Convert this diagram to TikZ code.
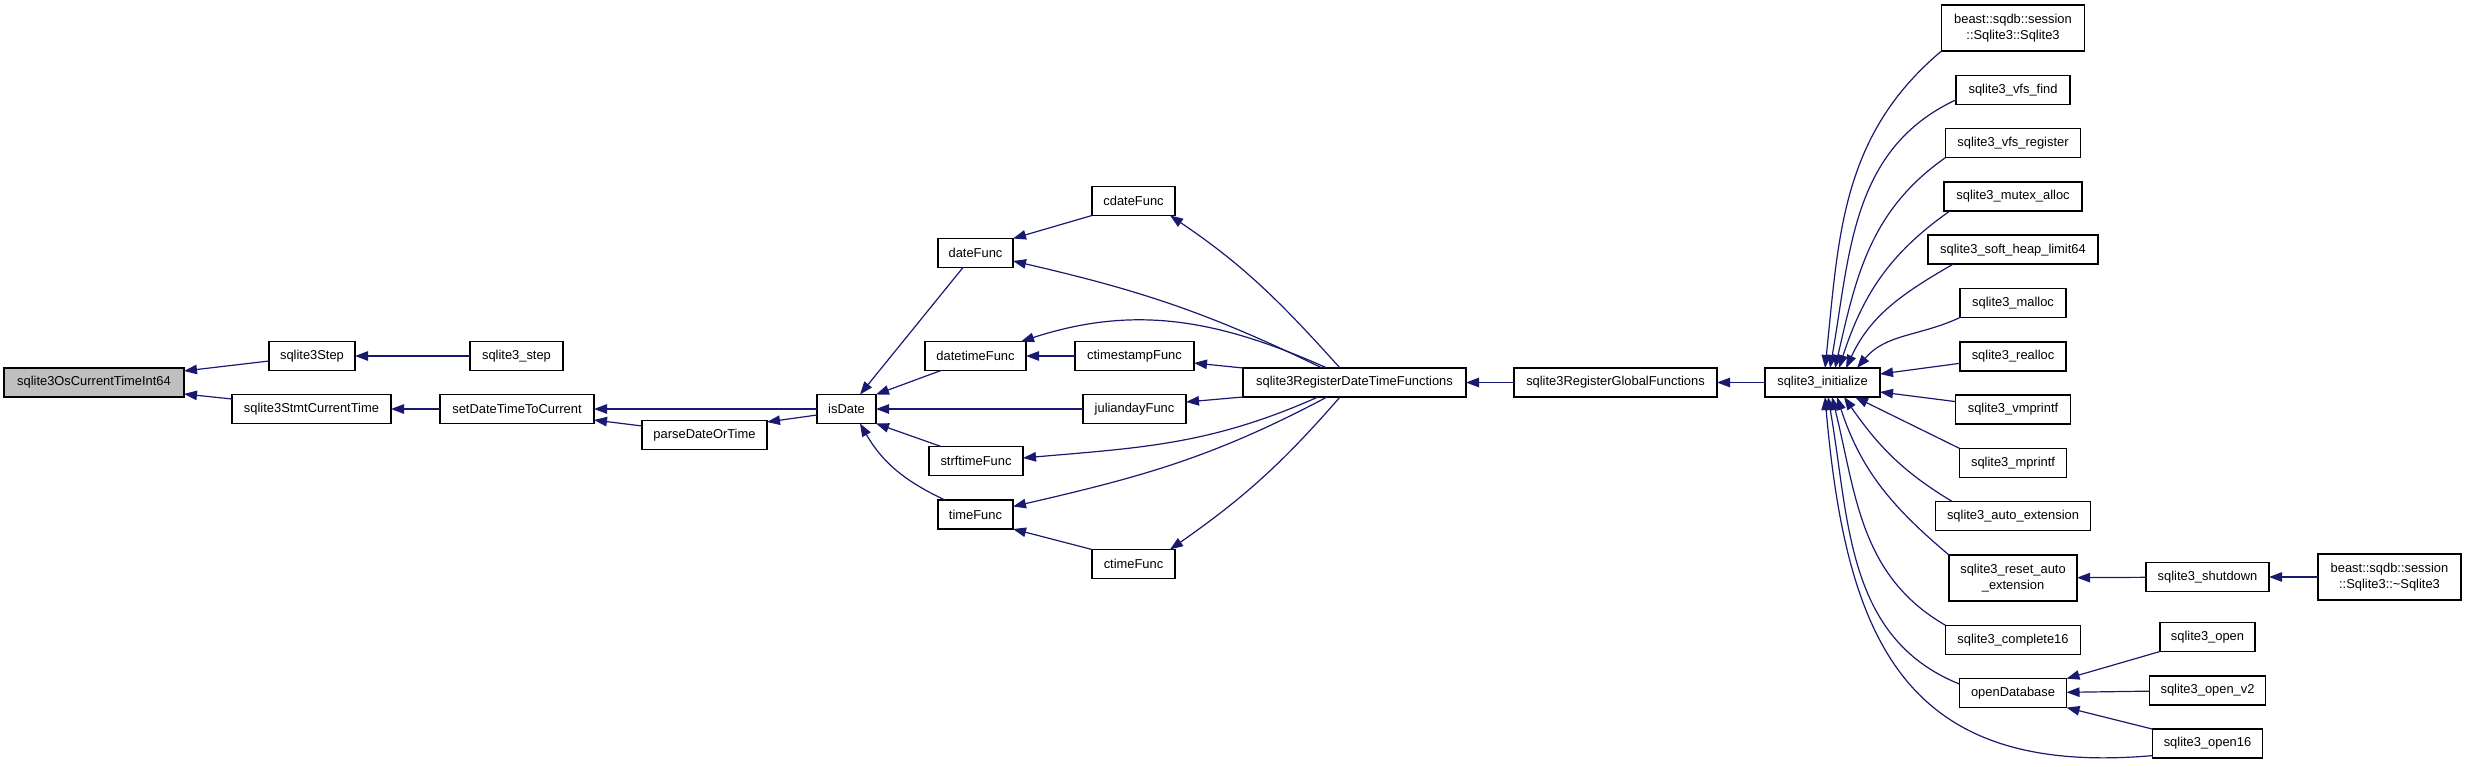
\documentclass[tikz,border=0pt]{standalone}
\usepackage{fontspec}
\setmainfont{Liberation Sans}
\usepackage{tikz}
\usetikzlibrary{arrows.meta, positioning}
\definecolor{edgeblue}{RGB}{25,25,112}
\definecolor{rootgray}{RGB}{191,191,191}

\begin{document}
\begin{tikzpicture}[
  x=1pt, y=-1pt,
  node distance=24.3pt,
  fn/.style={draw=black, fill=white, line width=1.4pt, minimum height=29pt, inner sep=0pt,
             outer sep=0pt, font={\fontsize{12.9}{16.5}\selectfont}, align=center},
  tall/.style={fn, minimum height=46pt},
  root/.style={fn, fill=rootgray},
  call/.style={-{Triangle[length=13pt, width=9.5pt]}, edgeblue, line width=1.2pt}
]
\useasboundingbox (0,0) rectangle (2467,767);

% Left: the function and its direct callers
\node[root, minimum width=180pt] (osct) at (94,382.5) {sqlite3OsCurrentTimeInt64};
\node[fn, minimum width=86pt] (step) at (312,356) {sqlite3Step};
\node[fn, minimum width=159pt] (stmt) at (311.5,409) {sqlite3StmtCurrentTime};
\node[fn, minimum width=93pt] (sqlstep) at (516.5,356) {sqlite3\_step};
\node[fn, minimum width=154pt] (setdt) at (517,409) {setDateTimeToCurrent};
\node[fn, minimum width=125pt] (parse) at (704.5,435) {parseDateOrTime};
\node[fn, minimum width=59pt] (isdate) at (846.5,409) {isDate};

% Middle: date and time functions
\node[fn, minimum width=75pt] (datef) at (975.5,253) {dateFunc};
\node[fn, minimum width=101pt] (dtimef) at (975.5,356) {datetimeFunc};
\node[fn, minimum width=94pt] (strff) at (976,461) {strftimeFunc};
\node[fn, minimum width=75pt] (timef) at (975.5,514.5) {timeFunc};
\node[fn, minimum width=83pt] (cdatef) at (1133.5,201) {cdateFunc};
\node[fn, minimum width=119pt] (ctsf) at (1134.5,356) {ctimestampFunc};
\node[fn, minimum width=103pt] (julf) at (1134.5,409) {juliandayFunc};
\node[fn, minimum width=83pt] (ctimef) at (1133.5,564) {ctimeFunc};
\node[fn, minimum width=223pt] (regdt) at (1354.5,382.5) {sqlite3RegisterDateTimeFunctions};
\node[fn, minimum width=203pt] (reggl) at (1615.5,382.5) {sqlite3RegisterGlobalFunctions};
\node[fn, minimum width=115pt] (init) at (1822.5,382.5) {sqlite3\_initialize};

% Right: callers of sqlite3_initialize
\node[tall, minimum width=143pt] (sqdbnew) at (2013,28) {beast::sqdb::session\\::Sqlite3::Sqlite3};
\node[fn, minimum width=114pt, below=of sqdbnew] (vfsfind) {sqlite3\_vfs\_find};
\node[fn, minimum width=135pt, below=of vfsfind] (vfsreg) {sqlite3\_vfs\_register};
\node[fn, minimum width=138pt, below=of vfsreg] (mutex) {sqlite3\_mutex\_alloc};
\node[fn, minimum width=170pt, below=of mutex] (softheap) {sqlite3\_soft\_heap\_limit64};
\node[fn, minimum width=106pt, below=of softheap] (malloc) {sqlite3\_malloc};
\node[fn, minimum width=106pt, below=of malloc] (realloc) {sqlite3\_realloc};
\node[fn, minimum width=115pt, below=of realloc] (vmprintf) {sqlite3\_vmprintf};
\node[fn, minimum width=107pt, below=of vmprintf] (mprintf) {sqlite3\_mprintf};
\node[fn, minimum width=155pt, below=of mprintf] (autoext) {sqlite3\_auto\_extension};
\node[tall, minimum width=128pt, below=of autoext] (resetauto) {sqlite3\_reset\_auto\\\_extension};
\node[fn, minimum width=135pt, below=of resetauto] (complete16) {sqlite3\_complete16};
\node[fn, minimum width=107pt, below=of complete16] (opendb) {openDatabase};

\node[fn, minimum width=123pt] (shutdown) at (2207.5,577) {sqlite3\_shutdown};
\node[tall, minimum width=143pt] (sqdbdel) at (2389.5,577) {beast::sqdb::session\\::Sqlite3::\textasciitilde Sqlite3};
\node[fn, minimum width=95pt] (open) at (2207.5,637) {sqlite3\_open};
\node[fn, minimum width=116pt, below=of open] (openv2) {sqlite3\_open\_v2};
\node[fn, minimum width=110pt, below=of openv2] (open16) {sqlite3\_open16};

% Arrows into the left part
\draw[call] ([yshift=-5pt]step.west) -- ([yshift=11.5pt]osct.east);
\draw[call] ([yshift=10pt]stmt.west) -- ([yshift=-11.5pt]osct.east);
\draw[call] (sqlstep) -- (step);
\draw[call] (setdt) -- (stmt);
\draw[call] (isdate.west) -- (setdt.east);
\draw[call] ([yshift=9pt]parse.west) -- ([yshift=-11pt]setdt.east);
\draw[call] ([yshift=-6pt]isdate.west) -- ([yshift=13pt]parse.east);

% Arrows into isDate
\draw[call] ([xshift=-12.5pt]datef.south) -- ([xshift=13.5pt]isdate.north);
\draw[call] ([xshift=-34.5pt]dtimef.south) -- (isdate.north east);
\draw[call] (julf) -- (isdate);
\draw[call] ([xshift=-35pt]strff.north) -- (isdate.south east);
\draw[call] ([xshift=-30.5pt]timef.north) to[out=155, in=-60] ([xshift=13.5pt]isdate.south);
\draw[call] (cdatef.south west) -- (datef.north east);
\draw[call] (ctsf) -- (dtimef);
\draw[call] (ctimef.north west) -- (timef.south east);

% Arrows from the registration
\draw[call] ([xshift=-14.5pt]regdt.north) to[out=132, in=-34] ([xshift=-5pt]cdatef.south east);
\draw[call] ([xshift=-32.5pt]regdt.north) to[out=154, in=-13] ([yshift=-8pt]datef.east);
\draw[call] ([xshift=-27.5pt]regdt.north) to[out=156, in=18] ([xshift=-5pt]dtimef.north east);
\draw[call] (regdt.north west) -- ([yshift=-7pt]ctsf.east);
\draw[call] (regdt.south west) -- ([yshift=7pt]julf.east);
\draw[call] ([xshift=-36.5pt]regdt.south) to[out=204, in=5] ([yshift=3pt]strff.east);
\draw[call] ([xshift=-27.5pt]regdt.south) to[out=208, in=13] ([yshift=8pt]timef.east);
\draw[call] ([xshift=-14.5pt]regdt.south) to[out=229, in=35] ([xshift=-5pt]ctimef.north east);
\draw[call] (reggl) -- (regdt);
\draw[call] (init) -- (reggl);

% Arrows into sqlite3_initialize
\draw[call] (sqdbnew.south west) to[out=220, in=84] ([xshift=2.5pt]init.north);
\draw[call] ([yshift=-10pt]vfsfind.west) to[out=205, in=80] ([xshift=7.5pt]init.north);
\draw[call] (vfsreg.south west) to[out=215, in=77] ([xshift=12.5pt]init.north);
\draw[call] ([xshift=6pt]mutex.south west) to[out=215, in=72] ([xshift=16.5pt]init.north);
\draw[call] ([xshift=25pt]softheap.south west) to[out=210, in=65] ([xshift=23.5pt]init.north);
\draw[call] (malloc.south west) to[out=205, in=50] ([xshift=34.5pt]init.north);
\draw[call] ([yshift=-7pt]realloc.west) -- ([yshift=8.5pt]init.east);
\draw[call] ([yshift=8pt]vmprintf.west) -- ([yshift=-9.5pt]init.east);
\draw[call] (mprintf.north west) -- ([xshift=32.5pt]init.south);
\draw[call] ([xshift=17pt]autoext.north west) to[out=149, in=-55] ([xshift=21.5pt]init.south);
\draw[call] (resetauto.north west) to[out=140, in=-72] ([xshift=14.5pt]init.south);
\draw[call] (complete16.north west) to[out=150, in=-76] ([xshift=9.5pt]init.south);
\draw[call] ([yshift=9pt]opendb.west) to[out=158, in=-80] ([xshift=5.5pt]init.south);
\draw[call] ([yshift=-12pt]open16.west) to[out=185, in=-85, looseness=1.3] ([xshift=2.5pt]init.south);

% Arrows on the far right
\draw[call] (shutdown) -- (resetauto);
\draw[call] (sqdbdel) -- (shutdown);
\draw[call] (open.south west) -- (opendb.north east);
\draw[call] (openv2) -- (opendb);
\draw[call] (open16.north west) -- (opendb.south east);

\end{tikzpicture}
\end{document}
